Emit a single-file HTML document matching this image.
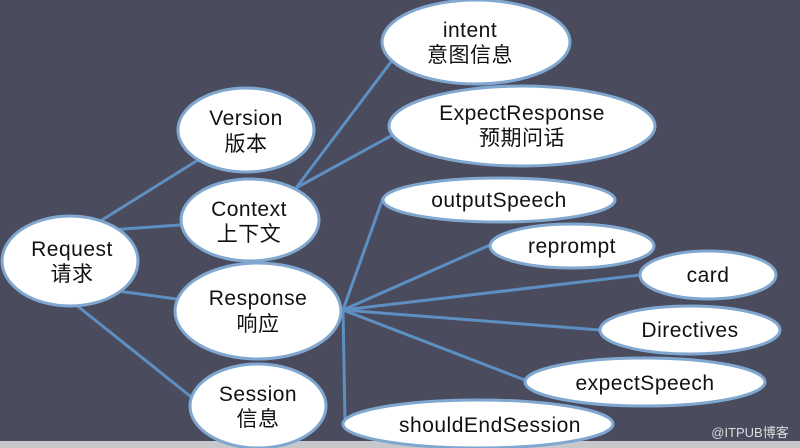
<!DOCTYPE html>
<html><head><meta charset="utf-8"><style>
html,body{margin:0;padding:0;background:#4a4b5c;}
svg{display:block}
text{font-family:"Liberation Sans","Noto Sans CJK SC",sans-serif;fill:#111;text-anchor:middle;font-size:21px;letter-spacing:0.5px}
</style></head><body>
<svg width="800" height="448" viewBox="0 0 800 448">
<rect width="800" height="448" fill="#4a4b5c"/>
<rect y="441" width="800" height="7" fill="#c8c8cc"/>
<g stroke="#5d8fc2" stroke-width="3" fill="none">
<line x1="70" y1="240" x2="246" y2="130"/>
<line x1="110" y1="230" x2="250" y2="220"/>
<line x1="110" y1="290" x2="258" y2="310"/>
<line x1="70" y1="300" x2="220" y2="420"/>
<line x1="296" y1="188" x2="400" y2="50"/>
<line x1="296" y1="188" x2="420" y2="120"/>
<line x1="343" y1="310" x2="383" y2="198"/>
<line x1="343" y1="310" x2="490" y2="245"/>
<line x1="343" y1="310" x2="640" y2="275"/>
<line x1="343" y1="310" x2="600" y2="330"/>
<line x1="343" y1="310" x2="530" y2="382"/>
<line x1="343" y1="310" x2="345" y2="420"/>
</g>
<g fill="#fff" stroke="#7fa7d0" stroke-width="3">
<ellipse cx="70" cy="261" rx="68" ry="45"/>
<ellipse cx="246" cy="130" rx="68" ry="42"/>
<ellipse cx="250" cy="220" rx="69" ry="41"/>
<ellipse cx="258" cy="311" rx="83" ry="48"/>
<ellipse cx="258" cy="406" rx="68" ry="42"/>
<ellipse cx="476" cy="42" rx="94" ry="42"/>
<ellipse cx="522" cy="126" rx="133" ry="40"/>
<ellipse cx="499" cy="200" rx="116" ry="22"/>
<ellipse cx="572" cy="246" rx="82" ry="22"/>
<ellipse cx="708" cy="275" rx="68" ry="24"/>
<ellipse cx="690" cy="330" rx="90" ry="24"/>
<ellipse cx="645" cy="382" rx="120" ry="24"/>
<ellipse cx="478" cy="424" rx="135" ry="24"/>
</g>
<text x="72" y="256">Request</text><text x="72" y="281">请求</text>
<text x="246" y="125">Version</text><text x="246" y="151">版本</text>
<text x="249" y="216">Context</text><text x="249" y="241">上下文</text>
<text x="258" y="305">Response</text><text x="258" y="331">响应</text>
<text x="258" y="401">Session</text><text x="258" y="426">信息</text>
<text x="470" y="37">intent</text><text x="470" y="62">意图信息</text>
<text x="522" y="120">ExpectResponse</text><text x="522" y="145">预期问话</text>
<text x="499" y="207">outputSpeech</text>
<text x="572" y="253">reprompt</text>
<text x="708" y="282">card</text>
<text x="690" y="337">Directives</text>
<text x="645" y="390">expectSpeech</text>
<text x="490" y="432">shouldEndSession</text>
<text x="750" y="437" style="font-size:13px;fill:#ddd;letter-spacing:0">@ITPUB博客</text>
</svg>
</body></html>
